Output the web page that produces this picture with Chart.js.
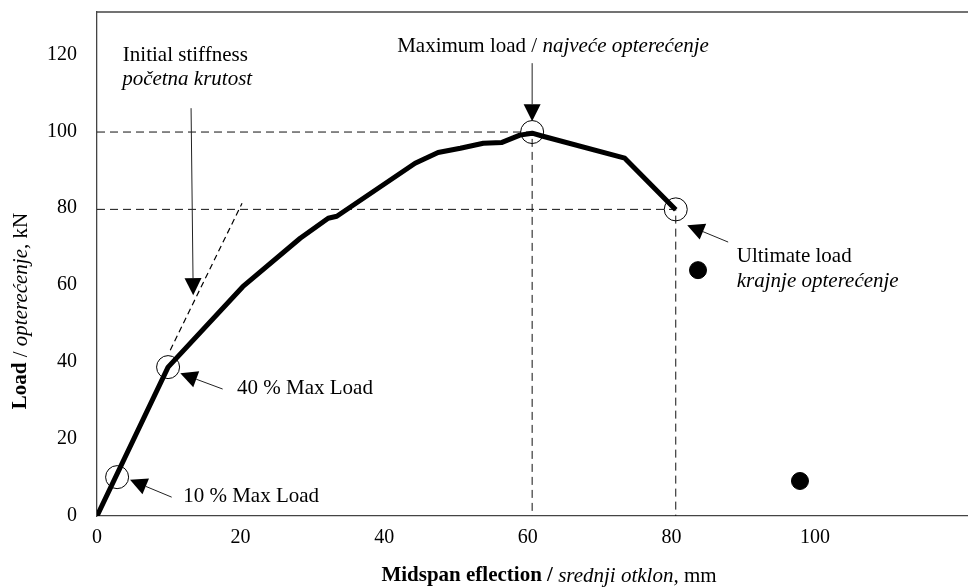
<!DOCTYPE html>
<html>
<head>
<meta charset="utf-8">
<script src="https://cdn.jsdelivr.net/npm/chart.js@4"></script>
<style>
  body { margin: 0; background: #fff; }
  #wrap { width: 968px; height: 587px; }
</style>
</head>
<body>
<div id="wrap"><canvas id="myChart" width="968" height="587"></canvas></div>
<script>
// load-deflection curve (mm, kN)
const deflection = [0, 9.9, 20.3, 28.3, 32.2, 33.4, 44.3, 47.5, 50.6, 53.8, 56.4, 58.9, 60.6, 62.1, 73.5, 80.6];
const load = [0, 38.7, 59.6, 72.2, 77.4, 77.9, 91.7, 94.5, 95.6, 96.9, 97.1, 99.0, 99.5, 98.7, 93.0, 79.6];

// open circles: 10 %, 40 %, max, ultimate
const markX = [2.8, 9.9, 60.6, 80.6];
const markY = [10.1, 38.7, 99.8, 79.7];

// stray filled points
const dotX = [83.7, 97.9];
const dotY = [63.9, 9.1];

// initial stiffness tangent
const tangentX = [10.2, 20.2];
const tangentY = [43.1, 81.3];

const xTicks = [0, 20, 40, 60, 80, 100];
const yTicks = [0, 20, 40, 60, 80, 100, 120];

const SERIF = '"Liberation Serif", "Times New Roman", serif';

const pts = (xs, ys) => xs.map((x, i) => ({ x: x, y: ys[i] }));

// dashed guide lines from max and ultimate points to axes
const guide = (i) => [
    { x: 0, y: markY[i] },
    { x: markX[i], y: markY[i] },
    { x: markX[i], y: 0 }
];

// annotation texts and arrows, in data units
const labels = [
    { x: 3.6, y: 119.7, runs: [['Initial stiffness', '']] },
    { x: 3.5, y: 113.5, runs: [['početna krutost', 'italic']] },
    { x: 41.8, y: 122.1, runs: [['Maximum load / ', ''], ['najveće opterećenje', 'italic']] },
    { x: 89.1, y: 67.5, runs: [['Ultimate load', '']] },
    { x: 89.1, y: 61.0, runs: [['krajnje opterećenje', 'italic']] },
    { x: 19.5, y: 33.2, runs: [['40 % Max Load', '']] },
    { x: 12.0, y: 5.2, runs: [['10 % Max Load', '']] }
];
const arrows = [
    [13.1, 106.0, 13.4, 57.4],
    [60.6, 117.7, 60.6, 102.6],
    [87.9, 71.2, 82.2, 75.6],
    [17.5, 33.0, 11.6, 37.1],
    [10.4, 4.9, 4.6, 9.4]
];

function drawRuns(ctx, runs, x, y, align) {
    const size = 21;
    let total = 0;
    runs.forEach(r => {
        ctx.font = (r[1] ? r[1] + ' ' : '') + size + 'px ' + SERIF;
        total += ctx.measureText(r[0]).width;
    });
    let cx = align === 'center' ? x - total / 2 : x;
    ctx.textAlign = 'left';
    ctx.textBaseline = 'middle';
    ctx.fillStyle = '#000';
    runs.forEach(r => {
        ctx.font = (r[1] ? r[1] + ' ' : '') + size + 'px ' + SERIF;
        ctx.fillText(r[0], cx, y);
        cx += ctx.measureText(r[0]).width;
    });
}

const annotate = {
    id: 'annotate',
    afterDraw(chart) {
        const ctx = chart.ctx;
        const xs = chart.scales.x, ys = chart.scales.y;
        const area = chart.chartArea;
        ctx.save();

        // top frame line
        ctx.strokeStyle = '#444';
        ctx.lineWidth = 1.3;
        ctx.beginPath();
        ctx.moveTo(area.left, area.top);
        ctx.lineTo(area.right, area.top);
        ctx.stroke();

        // arrows
        ctx.strokeStyle = '#222';
        ctx.fillStyle = '#000';
        ctx.lineWidth = 1;
        arrows.forEach(a => {
            const x1 = xs.getPixelForValue(a[0]), y1 = ys.getPixelForValue(a[1]);
            const x2 = xs.getPixelForValue(a[2]), y2 = ys.getPixelForValue(a[3]);
            const ang = Math.atan2(y2 - y1, x2 - x1);
            const len = 17, half = 8.5;
            const bx = x2 - len * Math.cos(ang), by = y2 - len * Math.sin(ang);
            ctx.beginPath();
            ctx.moveTo(x1, y1);
            ctx.lineTo(bx, by);
            ctx.stroke();
            ctx.beginPath();
            ctx.moveTo(x2, y2);
            ctx.lineTo(bx + half * Math.sin(ang), by - half * Math.cos(ang));
            ctx.lineTo(bx - half * Math.sin(ang), by + half * Math.cos(ang));
            ctx.closePath();
            ctx.fill();
        });

        // annotation texts
        labels.forEach(l => {
            drawRuns(ctx, l.runs, xs.getPixelForValue(l.x), ys.getPixelForValue(l.y), 'left');
        });

        // axis titles with mixed styles
        drawRuns(ctx, [['Midspan eflection / ', 'bold'], ['srednji otklon,', 'italic'], [' mm', '']], 549, 576, 'center');
        ctx.translate(21, 311);
        ctx.rotate(-Math.PI / 2);
        drawRuns(ctx, [['Load', 'bold'], [' / ', ''], ['opterećenje', 'italic'], [', kN', '']], 0, 0, 'center');

        ctx.restore();
    }
};

const ctx = document.getElementById('myChart').getContext('2d');
const chart = new Chart(ctx, {
    type: 'scatter',
    data: {
        datasets: [
            {
                label: 'markers',
                data: pts(markX, markY),
                showLine: false,
                pointStyle: 'circle',
                pointRadius: 11.5,
                pointBorderWidth: 1,
                pointBorderColor: '#000',
                pointBackgroundColor: 'rgba(0,0,0,0)',
                order: 0
            },
            {
                label: 'curve',
                data: pts(deflection, load),
                showLine: true,
                borderColor: '#000',
                borderWidth: 5,
                borderJoinStyle: 'round',
                pointRadius: 0,
                tension: 0,
                order: 1
            },
            {
                label: 'dots',
                data: pts(dotX, dotY),
                showLine: false,
                pointRadius: 8.5,
                pointBackgroundColor: '#000',
                pointBorderColor: '#000',
                order: 2
            },
            {
                label: 'max guide',
                data: guide(2),
                showLine: true,
                borderColor: '#111',
                borderWidth: 1,
                borderDash: [8, 5],
                pointRadius: 0,
                order: 3
            },
            {
                label: 'ultimate guide',
                data: guide(3),
                showLine: true,
                borderColor: '#111',
                borderWidth: 1,
                borderDash: [8, 5],
                pointRadius: 0,
                order: 3
            },
            {
                label: 'tangent',
                data: pts(tangentX, tangentY),
                showLine: true,
                borderColor: '#000',
                borderWidth: 1.2,
                borderDash: [6, 4],
                pointRadius: 0,
                order: 3
            }
        ]
    },
    options: {
        responsive: false,
        animation: false,
        layout: { autoPadding: false, padding: { top: 12, right: 0, left: 0, bottom: 0 } },
        plugins: {
            legend: { display: false },
            tooltip: { enabled: false }
        },
        scales: {
            x: {
                type: 'linear',
                min: 0,
                max: 121.3,
                grid: { display: false, drawTicks: false },
                border: { display: true, color: '#444', width: 1.3 },
                afterBuildTicks: (s) => { s.ticks = xTicks.map(v => ({ value: v })); },
                afterFit: (s) => {
                    s.height = 71;
                    s.paddingLeft = 0;
                    s.paddingRight = 0;
                },
                ticks: {
                    color: '#000',
                    padding: 10,
                    maxRotation: 0,
                    font: { family: SERIF, size: 20 }
                }
            },
            y: {
                type: 'linear',
                min: 0,
                max: 131,
                grid: { display: false, drawTicks: false },
                border: { display: true, color: '#444', width: 1.3 },
                afterBuildTicks: (s) => { s.ticks = yTicks.map(v => ({ value: v })); },
                afterFit: (s) => {
                    s.width = 97;
                    s.paddingTop = 0;
                    s.paddingBottom = 0;
                },
                ticks: {
                    color: '#000',
                    padding: 20,
                    font: { family: SERIF, size: 20 }
                }
            }
        }
    },
    plugins: [annotate]
});
</script>
</body>
</html>
